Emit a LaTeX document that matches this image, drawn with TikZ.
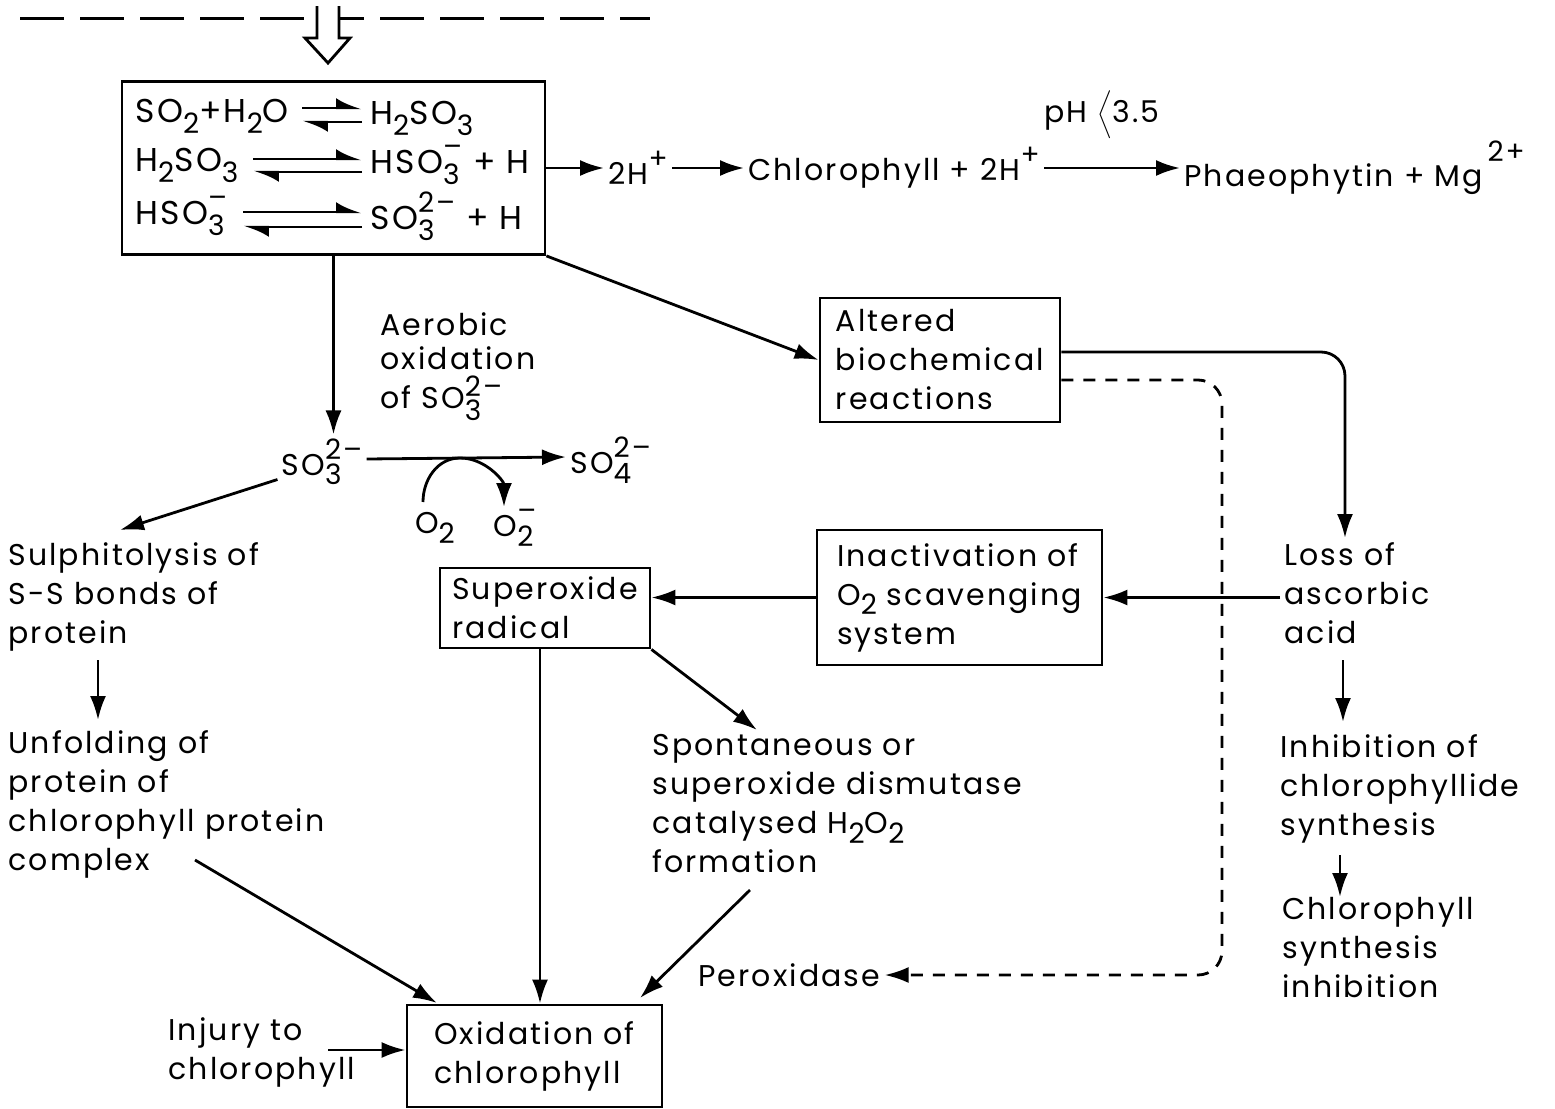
\documentclass[tikz,border=0pt]{standalone}
\usepackage{fontspec}
\setmainfont{Poppins}[LetterSpace=7]
\usetikzlibrary{arrows.meta,calc}
\newcommand\dn[1]{\raisebox{-0.6ex}{\fontsize{14}{14}\selectfont#1}}
\newcommand\up[1]{\raisebox{0.95ex}{\fontsize{14}{14}\selectfont#1}}
\newcommand\ionb[2]{\makebox[0pt][l]{\dn{#1}}\up{#2}}
\newcommand\ionl[2]{\makebox[0pt][l]{\raisebox{-0.75ex}{\fontsize{14}{14}\selectfont#1}}\raisebox{0.7ex}{\fontsize{14}{14}\selectfont#2}}
\tikzset{
  every node/.style={font=\fontsize{15}{19.5}\selectfont, inner sep=2pt},
  eqt/.style={font=\fontsize{16.5}{19.5}\selectfont, anchor=west},
  txt/.style={align=left, anchor=north west},
  box/.style={draw, line width=1.4pt, align=left},
  arr/.style={line width=1.4pt, -{Latex[length=12pt,width=8pt]}},
  eqarr/.style={line width=1.2pt, -{Latex[left,length=11pt,width=10pt]}},
  dsh/.style={line width=1.4pt, dash pattern=on 6pt off 5pt},
}
\begin{document}
\begin{tikzpicture}[x=0.5pt,y=-0.5pt]
\useasboundingbox (0,0) rectangle (1555,1109);
% top dashed line and hollow arrow
\coordinate (dl) at (20,18);
\coordinate (dr) at (650,18);
\draw[line width=1.5pt, dash pattern=on 22pt off 8pt] (dl) -- (dr);
\draw[line width=1.4pt, fill=white] (317,6) -- (317,38) -- (305,38) -- (328,63) -- (350,38) -- (339,38) -- (339,6);
% equation box
\node[box, minimum width=211.5pt, minimum height=86.5pt] (eqbox) at (333.5,168) {};
\node[eqt] (e1l) at (131,116) {SO\dn{2}+H\dn{2}O};
\node[eqt] (e1r) at (366,118) {H\dn{2}SO\dn{3}};
\node[eqt] (e2l) at (131,165) {H\dn{2}SO\dn{3}};
\node[eqt] (e2r) at (366,165) {HSO\ionb{3}{–} + H};
\node[eqt] (e3l) at (131,216) {HSO\ionb{3}{–}};
\node[eqt] (e3r) at (366,216) {SO\ionb{3}{2–} + H};
\draw[eqarr] (302,108) -- (362,108);
\draw[eqarr] (362,122) -- (302,122);
\draw[eqarr] (253,159) -- (362,159);
\draw[eqarr] (362,172) -- (253,172);
\draw[eqarr] (243,212) -- (362,212);
\draw[eqarr] (362,227) -- (243,227);
% top right reaction
\node[anchor=west] (h2) at (604,168) {2H\up{+}};
\node[anchor=west] (chl) at (744,168) {Chlorophyll + 2H\up{+}};
\node[anchor=west] (pha) at (1180,168) {Phaeophytin + Mg\raisebox{0.6ex}{\up{\,2+}}};
\node[anchor=west] (ph) at (1040,115) {pH $\bigg\langle$3.5};
\draw[arr] (eqbox.east) -- (h2.west);
\draw[arr] (h2.east) -- (chl.west);
\draw[arr] (chl.east) -- (pha.west);
% aerobic oxidation
\node (so3) at (322,462) {SO\ionb{3}{2–}};
\node[anchor=west] (so4) at (566,460) {SO\ionb{4}{2–}};
\node[txt, font=\fontsize{15}{17}\selectfont] (aer) at (376,308) {Aerobic\\oxidation\\[0.3ex]of SO\ionl{3}{2–}};
\draw[arr] (eqbox.south) -- (eqbox.south |- so3.north);
\draw[arr] ($(so3.east)+(0,-3)$) -- ($(so4.west)+(0,-3)$);
\node (o2) at (435,528) {O\dn{2}};
\node (o2m) at (515,528) {O\ionb{2}{–}};
\coordinate (arcs) at (423,502);
\coordinate (arct) at (460,458);
\coordinate (arce) at (504,507);
\draw[arr] (arcs) to[out=90,in=180] (arct) to[out=0,in=90] (arce);
% altered
\node[box, minimum width=120pt, minimum height=62pt] (alt) at (940,360) {Altered\\biochemical\\reactions};
\draw[arr] (eqbox.south east) -- (alt.west);
% loss of ascorbic acid
\node[txt] (loss) at (1280,538) {Loss of\\ascorbic\\acid};
\coordinate (c1) at (1345,352);
\draw[arr, rounded corners=12pt] ($(alt.east)+(0,-8)$) -- (c1) -- (c1 |- loss.north);
% peroxidase dashed
\node[anchor=west] (perox) at (694,975) {Peroxidase};
\coordinate (d1) at (1222,380);
\coordinate (d2) at (1222,975);
\draw[dsh, rounded corners=12pt, -{Latex[length=12pt,width=8pt]}] ($(alt.east)+(0,20)$) -- (d1) -- (d2) -- (perox.east);
% inactivation and superoxide
\node[box, minimum width=142.5pt, minimum height=67.5pt] (inact) at (959.5,597.5) {Inactivation of\\O\dn{2} scavenging\\system};
\node[box, minimum width=105pt, minimum height=40pt] (super) at (545,608) {Superoxide\\radical};
\draw[arr] (inact.east -| loss.west) -- (inact.east);
\draw[arr] (inact.west) -- (inact.west -| super.east);
% spontaneous
\node[txt] (spont) at (648,730) {Spontaneous or\\superoxide dismutase\\catalysed H\dn{2}O\dn{2}\\formation};
\coordinate (spt) at (757,730);
\draw[arr] (super.south east) -- (spt);
% oxidation of chlorophyll
\node[box, minimum width=127.5pt, minimum height=51pt] (oxid) at (534.5,1056) {Oxidation of\\chlorophyll};
\draw[arr] (super.south -| 540,0) -- (oxid.north -| 540,0);
\coordinate (sp2) at (750,890);
\coordinate (ox2) at (640,998);
\draw[arr] (sp2) -- (ox2);
% left column
\node[txt] (sulph) at (4,538) {Sulphitolysis of\\S-S bonds of\\protein};
\coordinate (st) at (120,530);
\draw[arr] ($(so3.south west)+(0,-10)$) -- (st);
\node[txt] (unf) at (4,726) {Unfolding of\\protein of\\chlorophyll protein\\complex};
\coordinate (a1) at (98,660);
\coordinate (a2) at (98,720);
\draw[arr] (a1) -- (a2);
\coordinate (u1) at (195,860);
\coordinate (ox1) at (437,1003);
\draw[arr] (u1) -- (ox1);
\node[anchor=west, align=left] (inj) at (164,1052) {Injury to\\chlorophyll};
\coordinate (ij) at (328,1050);
\draw[arr] (ij) -- (ij -| oxid.west);
% right column
\node[txt] (inh) at (1276,730) {Inhibition of\\chlorophyllide\\synthesis};
\coordinate (b1) at (1343,660);
\coordinate (b2) at (1343,722);
\draw[arr] (b1) -- (b2);
\node[txt] (chs) at (1278,893) {Chlorophyll\\synthesis\\inhibition};
\coordinate (b3) at (1340,855);
\coordinate (b4) at (1340,897);
\draw[arr] (b3) -- (b4);
\end{tikzpicture}
\end{document}
